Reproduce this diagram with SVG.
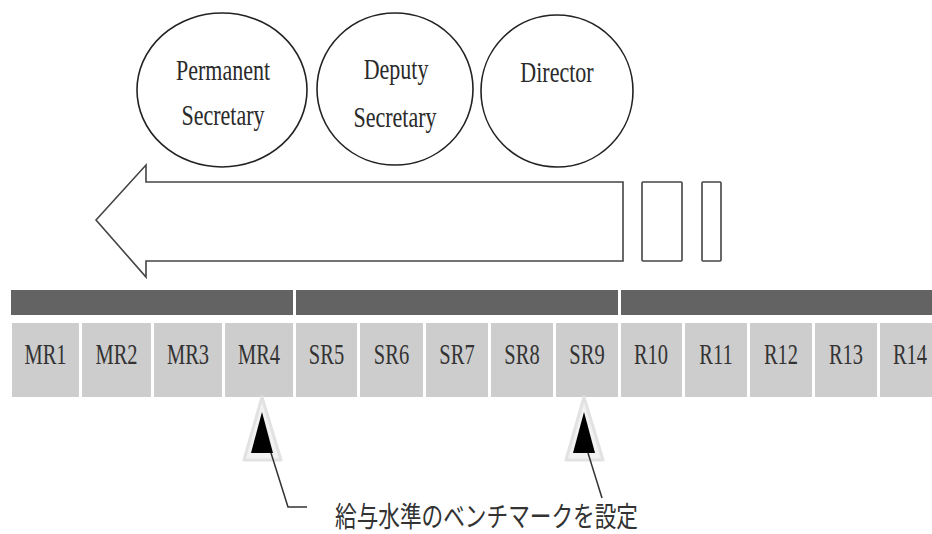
<svg xmlns="http://www.w3.org/2000/svg" width="932" height="534" viewBox="0 0 932 534">
<style>
.oval{fill:#fff;stroke:#222;stroke-width:1.6}
.lbl{font-family:"Liberation Serif","Times New Roman",serif;font-size:22px;fill:#2a2a2a;text-anchor:middle}
.band{fill:#636363}
.cell{fill:#cdcdcd}
.ctext{font-family:"Liberation Serif","Times New Roman",serif;font-size:20.5px;fill:#333;text-anchor:middle}
.box{fill:#fff;stroke:#444;stroke-width:1.6}
.halo{fill:#f2f2f2;stroke:#e2e2e2;stroke-width:3;stroke-linejoin:round}
.tri{fill:#000}
.lead{fill:none;stroke:#333;stroke-width:1.5}
.note{font-family:"Noto Sans CJK JP","Noto Sans",sans-serif;font-size:21.6px;fill:#333}
</style>
<rect width="932" height="534" fill="#fff"/>

<g id="node-permanent-secretary">
<ellipse class="oval" cx="222" cy="90" rx="85" ry="77"/>
<text class="lbl" transform="translate(223,80) scale(1,1.38)">Permanent</text>
<text class="lbl" transform="translate(223,125) scale(1,1.38)">Secretary</text>
</g>
<g id="node-deputy-secretary">
<ellipse class="oval" cx="395" cy="89" rx="78" ry="76"/>
<text class="lbl" transform="translate(396,79) scale(1,1.38)">Deputy</text>
<text class="lbl" transform="translate(395,127) scale(1,1.38)">Secretary</text>
</g>
<g id="node-director">
<ellipse class="oval" cx="557" cy="91" rx="76" ry="76"/>
<text class="lbl" transform="translate(557,82) scale(1,1.38)">Director</text>
</g>

<g id="node-arrow">
<polygon class="box" points="96,220 146,165 146,182 623,182 623,261 146,261 146,277"/>
</g>
<g id="node-box1">
<rect class="box" x="642" y="182" width="40" height="79" rx="1"/>
</g>
<g id="node-box2">
<rect class="box" x="702" y="182" width="19" height="79" rx="1"/>
</g>

<g id="node-bands">
<rect class="band" x="11" y="290" width="282" height="25"/>
<rect class="band" x="296" y="290" width="322" height="25"/>
<rect class="band" x="621" y="290" width="311" height="25"/>
</g>

<g id="node-cells">
<rect class="cell" x="12" y="323" width="67" height="74"/>
<rect class="cell" x="82" y="323" width="69" height="74"/>
<rect class="cell" x="154" y="323" width="68" height="74"/>
<rect class="cell" x="225" y="323" width="68" height="74"/>
<rect class="cell" x="296" y="323" width="61" height="74"/>
<rect class="cell" x="360" y="323" width="63" height="74"/>
<rect class="cell" x="426" y="323" width="62" height="74"/>
<rect class="cell" x="491" y="323" width="62" height="74"/>
<rect class="cell" x="556" y="323" width="62" height="74"/>
<rect class="cell" x="621" y="323" width="61" height="74"/>
<rect class="cell" x="685" y="323" width="62" height="74"/>
<rect class="cell" x="750" y="323" width="62" height="74"/>
<rect class="cell" x="815" y="323" width="62" height="74"/>
<rect class="cell" x="880" y="323" width="62" height="74"/>
<text class="ctext" transform="translate(45.5,364) scale(1,1.45)">MR1</text>
<text class="ctext" transform="translate(116.5,364) scale(1,1.45)">MR2</text>
<text class="ctext" transform="translate(188,364) scale(1,1.45)">MR3</text>
<text class="ctext" transform="translate(259,364) scale(1,1.45)">MR4</text>
<text class="ctext" transform="translate(326.5,364) scale(1,1.45)">SR5</text>
<text class="ctext" transform="translate(391.5,364) scale(1,1.45)">SR6</text>
<text class="ctext" transform="translate(457,364) scale(1,1.45)">SR7</text>
<text class="ctext" transform="translate(522,364) scale(1,1.45)">SR8</text>
<text class="ctext" transform="translate(587,364) scale(1,1.45)">SR9</text>
<text class="ctext" transform="translate(651,364) scale(1,1.45)">R10</text>
<text class="ctext" transform="translate(716,364) scale(1,1.45)">R11</text>
<text class="ctext" transform="translate(781,364) scale(1,1.45)">R12</text>
<text class="ctext" transform="translate(846,364) scale(1,1.45)">R13</text>
<text class="ctext" transform="translate(910,364) scale(1,1.45)">R14</text>
</g>

<g id="node-marker-mr4">
<polygon class="halo" points="262,397 244,460 281,460"/>
<polygon class="tri" points="262,412 251,453 273,453"/>
</g>
<g id="node-marker-sr9">
<polygon class="halo" points="584,397 566,460 603,460"/>
<polygon class="tri" points="584,412 573,453 595,453"/>
</g>

<g id="connectors">
<polyline class="lead" points="271,453 288,507 307,507"/>
<polyline class="lead" points="588,453 602,498"/>
</g>

<g id="node-note">
<text class="note" transform="translate(335,527) scale(1,1.3)" textLength="303" lengthAdjust="spacingAndGlyphs">給与水準のベンチマークを設定</text>
</g>
</svg>
